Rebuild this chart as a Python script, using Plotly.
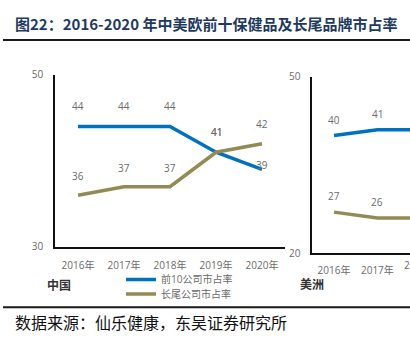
import plotly.graph_objects as go

years = ["2016年", "2017年", "2018年", "2019年", "2020年"]
cn_top10 = [44, 44, 44, 41, 39]
cn_tail = [36, 37, 37, 41, 42]
us_top10 = [40, 41, 41]
us_tail = [27, 26, 26]
us_years = years[:3]

cn_top10_shift = [20, 20, 20, 20, 4]
cn_tail_shift = [19, 19, 19, 20, 20]

blue = "#0070C0"
olive = "#948A54"
grey = "#6b6b6b"
FONT = "Open Sans, Noto Sans CJK SC, sans-serif"

W, H = 410, 346

fig = go.Figure()
fig.add_trace(go.Scatter(x=years, y=cn_top10, mode="lines", name="前10公司市占率", legend="legend",
                         line=dict(color=blue, width=3.5), xaxis="x", yaxis="y"))
fig.add_trace(go.Scatter(x=years, y=cn_tail, mode="lines", name="长尾公司市占率", legend="legend2",
                         line=dict(color=olive, width=3.5), xaxis="x", yaxis="y"))
fig.add_trace(go.Scatter(x=us_years, y=us_top10, mode="lines", showlegend=False,
                         line=dict(color=blue, width=3.5), xaxis="x2", yaxis="y2"))
fig.add_trace(go.Scatter(x=us_years, y=us_tail, mode="lines", showlegend=False,
                         line=dict(color=olive, width=3.5), xaxis="x2", yaxis="y2"))

ann = []
for xs, ys, sh in [(years, cn_top10, cn_top10_shift), (years, cn_tail, cn_tail_shift)]:
    for x, y, s in zip(xs, ys, sh):
        ann.append(dict(x=x, y=y, xref="x", yref="y", text=str(y), showarrow=False,
                        yshift=s, font=dict(size=10, color=grey, family=FONT)))
for xs, ys in [(us_years, us_top10), (us_years, us_tail)]:
    for x, y in zip(xs, ys):
        ann.append(dict(x=x, y=y, xref="x2", yref="y2", text=str(y), showarrow=False,
                        yshift=16, font=dict(size=10, color=grey, family=FONT)))

# partially visible tick label of the cut-off right panel
ann.append(dict(x=420.8 / W, y=1 - 269 / H, xref="paper", yref="paper", text=us_years[2],
                showarrow=False, xanchor="center", yanchor="middle",
                font=dict(size=10, color=grey, family=FONT)))

ann.append(dict(x=13 / W, y=1 - 17 / H, xref="paper", yref="paper",
                text="<b>图22：2016-2020 年中美欧前十保健品及长尾品牌市占率</b>",
                showarrow=False, xanchor="left", yanchor="middle",
                font=dict(size=15, color="#1f3a5f", family="Noto Sans CJK SC")))
ann.append(dict(x=45 / W, y=1 - 289 / H, xref="paper", yref="paper", text="<b>中国</b>",
                showarrow=False, xanchor="left", yanchor="middle",
                font=dict(size=12, color="#333333", family="Noto Sans CJK SC")))
ann.append(dict(x=298 / W, y=1 - 288 / H, xref="paper", yref="paper", text="<b>美洲</b>",
                showarrow=False, xanchor="left", yanchor="middle",
                font=dict(size=12, color="#333333", family="Noto Sans CJK SC")))
ann.append(dict(x=13 / W, y=1 - 328 / H, xref="paper", yref="paper",
                text="数据来源：仙乐健康，东吴证券研究所",
                showarrow=False, xanchor="left", yanchor="middle",
                font=dict(size=16, color="#111111", family="Noto Sans CJK SC")))

shapes = [
    dict(type="line", xref="paper", yref="paper", x0=3 / W, x1=1, y0=1 - 34.3 / H, y1=1 - 34.3 / H,
         line=dict(color="#1a1a1a", width=2)),
    dict(type="line", xref="paper", yref="paper", x0=3 / W, x1=1, y0=1 - 313 / H, y1=1 - 313 / H,
         line=dict(color="#1a1a1a", width=2)),
]

axis_common = dict(showgrid=False, zeroline=False, showline=True, linecolor="#111111", linewidth=1.5,
                   tickfont=dict(size=10, color=grey, family=FONT), fixedrange=True)

leg_common = dict(xanchor="left", yanchor="middle", font=dict(size=10, color=grey, family=FONT),
                  bgcolor="rgba(0,0,0,0)", itemwidth=30, borderwidth=0)

fig.update_layout(
    width=W, height=H, margin=dict(l=0, r=0, t=0, b=0),
    paper_bgcolor="white", plot_bgcolor="white",
    showlegend=True,
    legend=dict(x=121 / W, y=1 - 284 / H, **leg_common),
    legend2=dict(x=121 / W, y=1 - 299 / H, **leg_common),
    xaxis=dict(domain=[55 / W, 285 / W], range=[-0.5, 4.5], type="category", ticks="",
               ticklabelstandoff=8, anchor="y", **axis_common),
    yaxis=dict(domain=[1 - 250 / H, 1 - 70.7 / H], range=[30, 50], tickvals=[30, 50],
               ticks="inside", ticklen=3, tickcolor="#111111", ticklabelstandoff=8,
               anchor="x", **axis_common),
    xaxis2=dict(domain=[312.3 / W, 1], range=[-0.5, 1.751], type="category", ticks="",
                ticklabelstandoff=7, anchor="y2", categoryarray=years, **axis_common),
    yaxis2=dict(domain=[1 - 256.7 / H, 1 - 72.7 / H], range=[20, 50], tickvals=[20, 50],
                ticks="inside", ticklen=3, tickcolor="#111111", ticklabelstandoff=8,
                anchor="x2", **axis_common),
    annotations=ann, shapes=shapes,
)

fig.write_html("out.html")
